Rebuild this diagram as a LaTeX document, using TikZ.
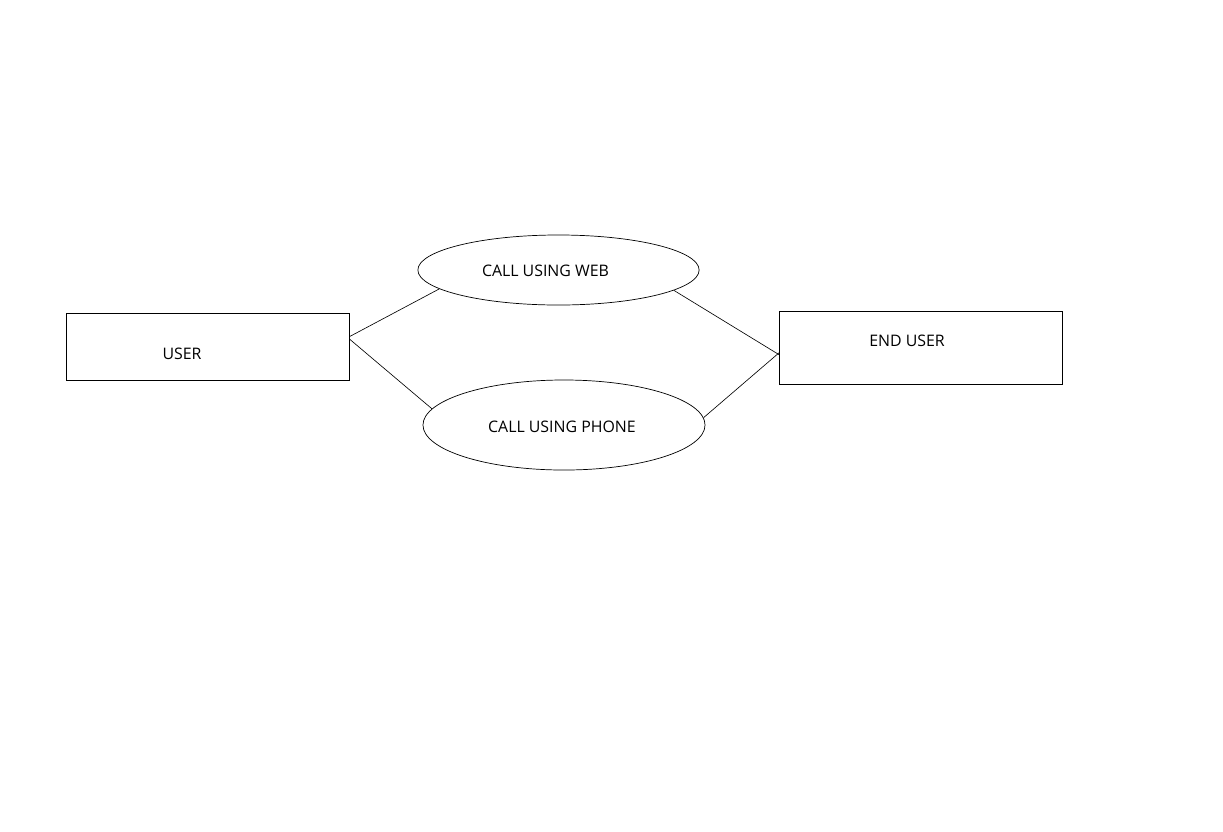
\documentclass[tikz,border=0pt]{standalone}
\usepackage{fontspec}
\setmainfont{Open Sans}
\usetikzlibrary{shapes.geometric, positioning}

\begin{document}
\begin{tikzpicture}[
        x=0.025cm, y=-0.025cm,
        every node/.style={font=\fontsize{11.3}{13}\selectfont},
        actor/.style={rectangle, draw=black, line width=0.7pt, minimum width=7.05cm, inner sep=0pt},
        usecase/.style={ellipse, draw=black, line width=0.5pt, minimum width=7.03cm, inner sep=0pt},
        link/.style={draw=black, line width=0.45pt},
    ]
        \useasboundingbox (0,0) rectangle (1223,831);

        % Actors
        \node[actor, minimum height=1.675cm] at (208,346.5) (user) {};
        \node at (182,354) (userlabel) {USER};
        \node[actor, minimum height=1.825cm] at (921,347.5) (enduser) {};
        \node at (907,341) (enduserlabel) {END USER};

        % Use cases
        \node[usecase, minimum height=1.75cm] at (558.5,270) (web) {};
        \node at (545.5,271) (weblabel) {CALL USING WEB};
        \node[usecase, minimum width=7.05cm, minimum height=2.25cm] at (564,425) (phone) {};
        \node at (562,426.5) (phonelabel) {CALL USING PHONE};

        % Connections
        \draw[link] (user.4) -- (web.189);
        \draw[link] (user.3) -- (phone.173);
        \draw[link] (web.350) -- (enduser.183);
        \draw[link] (phone.3) -- (enduser.182);

    \end{tikzpicture}
\end{document}
